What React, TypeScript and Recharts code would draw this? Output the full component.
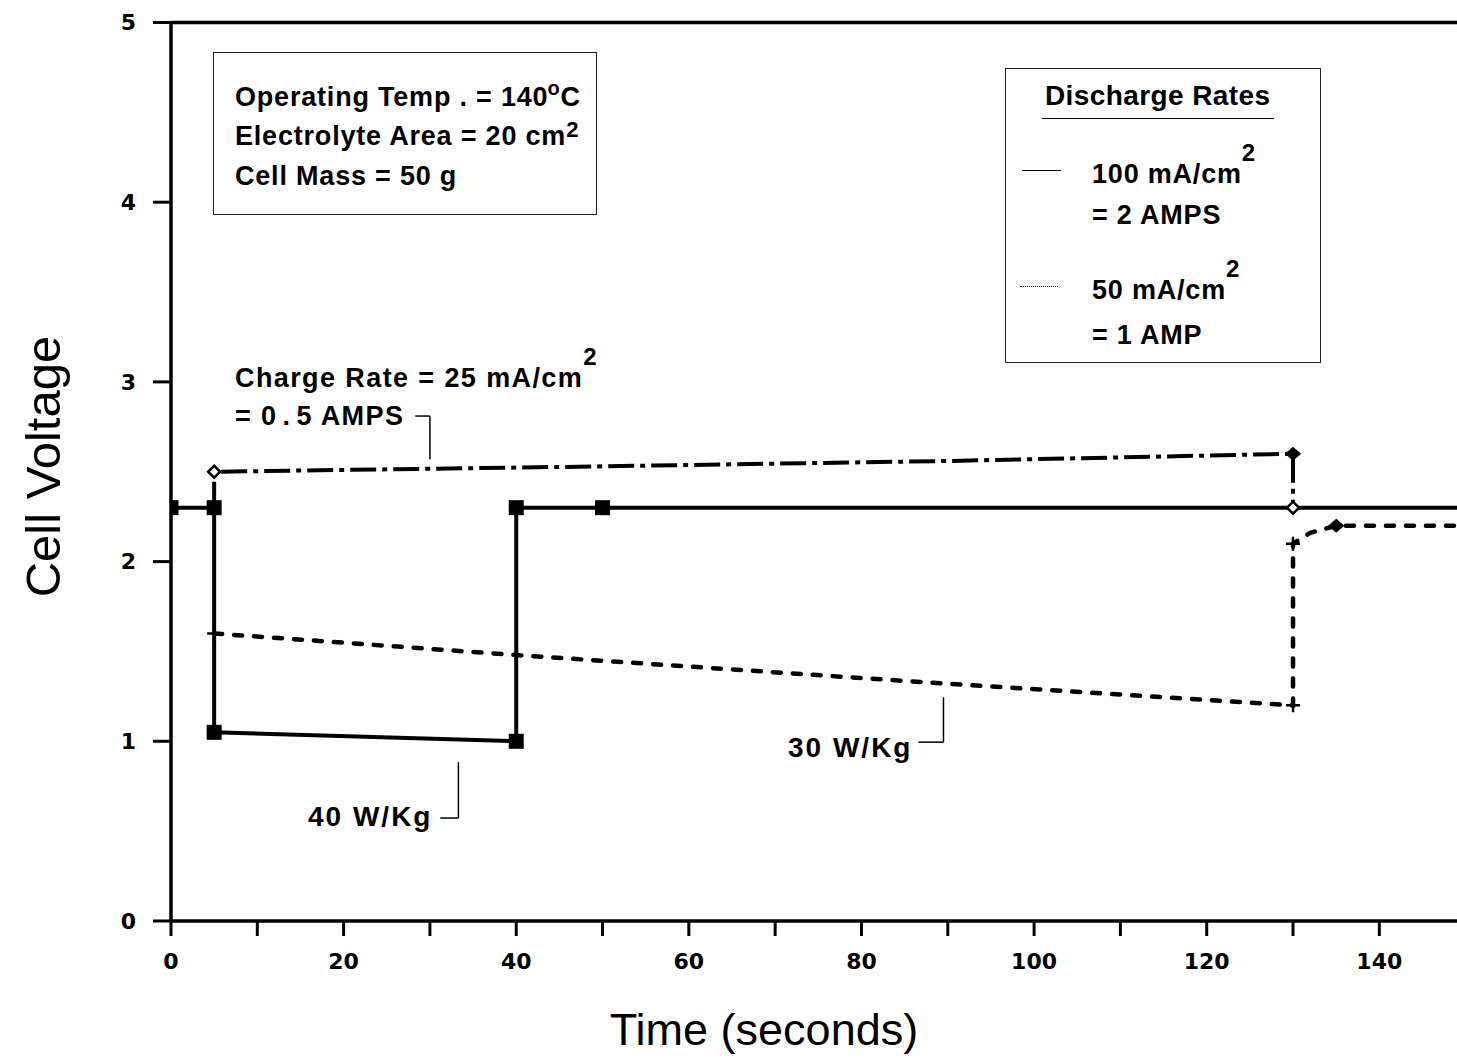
import React from 'react';
import { ComposedChart, Line, Scatter, XAxis, YAxis, ReferenceLine } from 'recharts';

// ---- data ----
const timeTicks = [0, 10, 20, 30, 40, 50, 60, 70, 80, 90, 100, 110, 120, 130, 140];
const voltTicks = [0, 1, 2, 3, 4, 5];

// 100 mA/cm2 = 2 A discharge (solid)
const discharge2A = [
  { t: 0, v: 2.3 },
  { t: 5, v: 2.3 },
  { t: 5, v: 1.05 },
  { t: 40, v: 1.0 },
  { t: 40, v: 2.3 },
  { t: 50, v: 2.3 },
  { t: 150, v: 2.3 },
];
const discharge2AMarks = [
  { t: 0, v: 2.3 },
  { t: 5, v: 2.3 },
  { t: 5, v: 1.05 },
  { t: 40, v: 1.0 },
  { t: 40, v: 2.3 },
  { t: 50, v: 2.3 },
];

// 25 mA/cm2 = 0.5 A charge (dash-dot)
const charge = [
  { t: 5, v: 2.3 },
  { t: 5, v: 2.5 },
  { t: 50, v: 2.53 },
  { t: 90, v: 2.56 },
  { t: 130, v: 2.6 },
  { t: 130, v: 2.3 },
];
const openDiamondMarks = [
  { t: 5, v: 2.5 },
  { t: 130, v: 2.3 },
];
const filledDiamondMarks = [
  { t: 130, v: 2.6 },
  { t: 135, v: 2.2 },
];

// 50 mA/cm2 = 1 A discharge (dashed)
const discharge1A = [
  { t: 5, v: 1.6 },
  { t: 40, v: 1.48 },
  { t: 90, v: 1.32 },
  { t: 130, v: 1.2 },
  { t: 130, v: 2.1 },
  { t: 132, v: 2.16 },
  { t: 135, v: 2.2 },
  { t: 150, v: 2.2 },
];
const plusMarks = [
  { t: 5, v: 1.6 },
  { t: 130, v: 1.2 },
  { t: 130, v: 2.1 },
];

// leader lines of the annotations (data coordinates)
const chargeLeader = [
  [{ x: 28.3, y: 2.81 }, { x: 30, y: 2.81 }],
  [{ x: 30, y: 2.81 }, { x: 30, y: 2.57 }],
];
const leader40 = [
  [{ x: 31.2, y: 0.573 }, { x: 33.3, y: 0.573 }],
  [{ x: 33.3, y: 0.573 }, { x: 33.3, y: 0.884 }],
];
const leader30 = [
  [{ x: 86.6, y: 0.995 }, { x: 89.5, y: 0.995 }],
  [{ x: 89.5, y: 0.995 }, { x: 89.5, y: 1.245 }],
];

// ---- helpers ----
const SANS = '"Liberation Sans", Arial, Helvetica, sans-serif';

function T({ x, baseline, size = 27, weight = 'bold', children, spacing = 0.8 }: any) {
  return (
    <div
      style={{
        position: 'absolute',
        left: x,
        top: baseline - 0.8465 * size,
        fontSize: size,
        lineHeight: size + 'px',
        fontFamily: SANS,
        fontWeight: weight as any,
        whiteSpace: 'nowrap',
        letterSpacing: spacing,
        color: '#000',
      }}
    >
      {children}
    </div>
  );
}

function Sup({ children, size = 22, raise = 20, ml = 0 }: any) {
  return (
    <span style={{ fontSize: size, position: 'relative', top: -raise, marginLeft: ml }}>{children}</span>
  );
}

const Square = (p: any) => (
  <rect x={p.cx - 7.5} y={p.cy - 7.5} width={15} height={15} fill="#000" />
);
const OpenDiamond = (p: any) => (
  <path
    d={`M${p.cx},${p.cy - 6} L${p.cx + 6},${p.cy} L${p.cx},${p.cy + 6} L${p.cx - 6},${p.cy} Z`}
    fill="#fff"
    stroke="#000"
    strokeWidth={2.5}
  />
);
const FilledDiamond = (p: any) => (
  <path
    d={`M${p.cx},${p.cy - 6} L${p.cx + 7},${p.cy} L${p.cx},${p.cy + 6} L${p.cx - 7},${p.cy} Z`}
    fill="#000"
    stroke="#000"
    strokeWidth={1.5}
  />
);
const Plus = (p: any) => (
  <path
    d={`M${p.cx - 7},${p.cy} L${p.cx + 7},${p.cy} M${p.cx},${p.cy - 7} L${p.cx},${p.cy + 7}`}
    stroke="#000"
    strokeWidth={2.5}
  />
);

const W = 1457;
const H = 1063;

export default function App() {
  return (
    <div style={{ position: 'fixed', left: 0, top: 0, width: W, height: H, overflow: 'hidden', background: '#fff' }}>
      <ComposedChart
        width={W}
        height={H}
        margin={{ top: 22.5, right: 0, bottom: 102, left: 111 }}
      >
        <XAxis
          type="number"
          dataKey="t"
          domain={[0, 149]}
          allowDataOverflow
          ticks={timeTicks}
          interval={0}
          tickFormatter={(v: number) => (v % 20 === 0 ? String(v) : '')}
          height={40}
          tickSize={15}
          tickMargin={17}
          axisLine={{ stroke: '#000', strokeWidth: 3.5 }}
          tickLine={{ stroke: '#000', strokeWidth: 3 }}
          tick={{ fontFamily: '"DejaVu Sans", sans-serif', fontWeight: 'bold', fontSize: 22, fill: '#000' }}
        />
        <YAxis
          type="number"
          dataKey="v"
          domain={[0, 5]}
          ticks={voltTicks}
          interval={0}
          width={60}
          tickSize={18}
          tickMargin={17}
          axisLine={{ stroke: '#000', strokeWidth: 3.5 }}
          tickLine={{ stroke: '#000', strokeWidth: 3 }}
          tick={{ fontFamily: '"DejaVu Sans", sans-serif', fontWeight: 'bold', fontSize: 22, fill: '#000' }}
        />
        <ReferenceLine y={5} stroke="#000" strokeWidth={3.5} />

        {[...chargeLeader, ...leader40, ...leader30].map((seg, i) => (
          <ReferenceLine key={'ld' + i} segment={seg} stroke="#000" strokeWidth={1.5} />
        ))}

        <Line
          data={discharge1A}
          dataKey="v"
          type="linear"
          stroke="#000"
          strokeWidth={4.5}
          strokeDasharray="8 12"
          strokeLinecap="round"
          dot={false}
          activeDot={false}
          isAnimationActive={false}
        />
        <Line
          data={charge}
          dataKey="v"
          type="linear"
          stroke="#000"
          strokeWidth={4}
          strokeDasharray="26 6 5 6"
          dot={false}
          activeDot={false}
          isAnimationActive={false}
        />
        <Line
          data={discharge2A}
          dataKey="v"
          type="linear"
          stroke="#000"
          strokeWidth={4}
          dot={false}
          activeDot={false}
          isAnimationActive={false}
        />
        <Scatter data={discharge2AMarks} dataKey="v" shape={Square} isAnimationActive={false} />
        <Scatter data={openDiamondMarks} dataKey="v" shape={OpenDiamond} isAnimationActive={false} />
        <Scatter data={filledDiamondMarks} dataKey="v" shape={FilledDiamond} isAnimationActive={false} />
        <Scatter data={plusMarks} dataKey="v" shape={Plus} isAnimationActive={false} />
      </ComposedChart>

      {/* conditions box */}
      <div
        style={{
          position: 'absolute',
          left: 213,
          top: 52,
          width: 384,
          height: 163,
          border: '1.5px solid #222',
          boxSizing: 'border-box',
        }}
      />
      <T x={235} baseline={107}>
        Operating Temp . = 140<Sup size={20} raise={11} ml={-1}>o</Sup>C
      </T>
      <T x={235} baseline={146}>
        Electrolyte Area = 20 cm<Sup size={22} raise={8}>2</Sup>
      </T>
      <T x={235} baseline={186}>Cell Mass = 50 g</T>

      {/* legend box */}
      <div
        style={{
          position: 'absolute',
          left: 1005,
          top: 68,
          width: 316,
          height: 295,
          border: '1.5px solid #222',
          boxSizing: 'border-box',
        }}
      />
      <T x={1045} baseline={106} size={28} spacing={0.4}>Discharge Rates</T>
      <div style={{ position: 'absolute', left: 1042, top: 118, width: 232, borderTop: '1.5px solid #000' }} />
      <div style={{ position: 'absolute', left: 1022, top: 170, width: 39, borderTop: '1px solid #000' }} />
      <T x={1092} baseline={184}>
        100 mA/cm<Sup size={24} raise={22}>2</Sup>
      </T>
      <T x={1092} baseline={225}>= 2 AMPS</T>
      <div style={{ position: 'absolute', left: 1020, top: 286, width: 38, borderTop: '1px dotted #000' }} />
      <T x={1092} baseline={300}>
        50 mA/cm<Sup size={24} raise={22}>2</Sup>
      </T>
      <T x={1092} baseline={345}>= 1 AMP</T>

      {/* annotations */}
      <T x={235} baseline={388} size={27} spacing={1.4}>
        Charge Rate = 25 mA/cm<Sup size={24} raise={22}>2</Sup>
      </T>
      <T x={235} baseline={426} size={27} spacing={1.4}>
        = 0<span style={{ margin: '0 5px' }}>.</span>5 AMPS
      </T>
      <T x={308} baseline={827} size={28} spacing={2}>
        40 W/Kg
      </T>
      <T x={788} baseline={758} size={28} spacing={2}>
        30 W/Kg
      </T>

      {/* axis titles */}
      <div
        style={{
          position: 'absolute',
          left: 764 - 300,
          width: 600,
          top: 1045 - 0.8465 * 45,
          fontSize: 45,
          lineHeight: '45px',
          textAlign: 'center',
          fontFamily: SANS,
          color: '#000',
        }}
      >
        Time (seconds)
      </div>
      <div
        style={{
          position: 'absolute',
          left: 43 - 200,
          width: 400,
          top: 466 - 24,
          height: 49,
          fontSize: 49,
          lineHeight: '49px',
          textAlign: 'center',
          fontFamily: SANS,
          color: '#000',
          transform: 'rotate(-90deg)',
        }}
      >
        Cell Voltage
      </div>
    </div>
  );
}
